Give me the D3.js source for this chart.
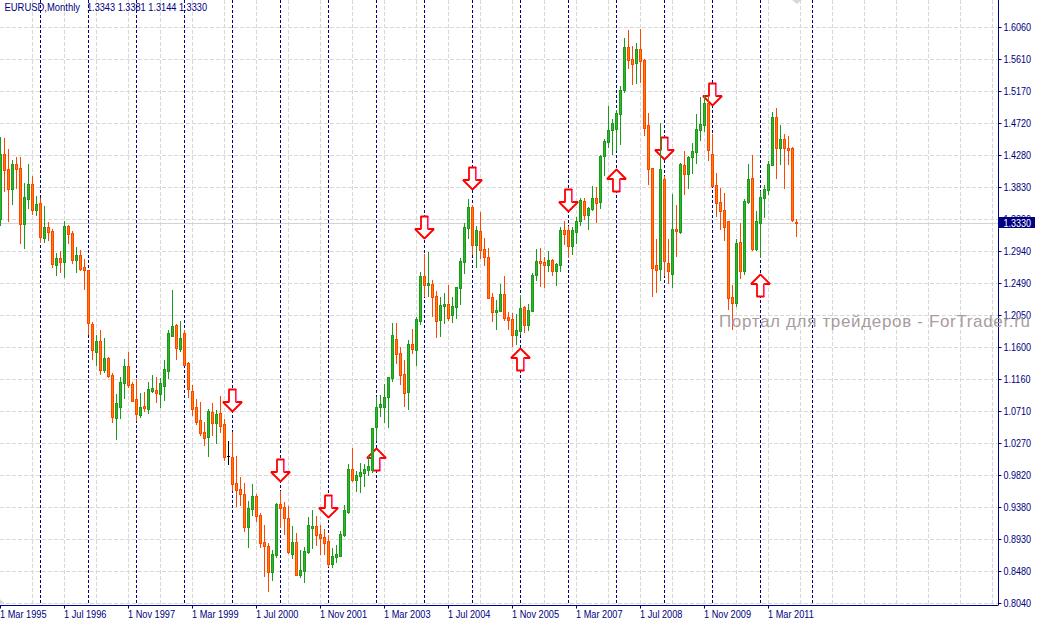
<!DOCTYPE html>
<html>
<head>
<meta charset="utf-8">
<script src="https://cdn.jsdelivr.net/npm/d3@7"></script>
<style>
  html, body { margin: 0; padding: 0; background: #fff; }
  svg { display: block; }
  text { font-family: "Liberation Sans", Arial, sans-serif; }
</style>
</head>
<body>
<svg id="chart" width="1037" height="622"></svg>
<script>
// EURUSD monthly bars, first bar is 1 Mar 1995
const opens = [
  1.3392,1.4292,1.4078,1.3805,1.4153,1.4097,1.3322,1.3665,1.3874,1.3512,
  1.3605,1.3127,1.3276,1.3220,1.2747,1.2844,1.2788,1.3289,1.3192,1.2816,
  1.2886,1.2719,1.2677,1.1925,1.1536,1.1689,1.1285,1.1452,1.1215,1.0617,
  1.0770,1.1104,1.1341,1.1090,1.0881,1.0659,1.0784,1.0742,1.0993,1.1007,
  1.0951,1.1062,1.1271,1.1758,1.1911,1.1577,1.1800,1.1382,1.0993,1.0770,
  1.0589,1.0422,1.0352,1.0700,1.0547,1.0687,1.0533,1.0087,1.0073,0.9711,
  0.9628,0.9558,0.9099,0.9349,0.9530,0.9266,0.8890,0.8834,0.8472,0.8709,
  0.9419,0.9377,0.9224,0.8723,0.8890,0.8431,0.8486,0.8751,0.9085,0.9113,
  0.9001,0.8960,0.8904,0.8584,0.8681,0.8695,0.8987,0.9308,0.9906,0.9753,
  0.9809,0.9850,0.9892,0.9892,1.0491,1.0770,1.0770,1.0909,1.1173,1.1716,
  1.1521,1.1229,1.0979,1.1647,1.1563,1.1967,1.2593,1.2468,1.2482,1.2315,
  1.1981,1.2176,1.2204,1.2050,1.2162,1.2426,1.2788,1.3261,1.3554,1.3025,
  1.3220,1.2969,1.2858,1.2301,1.2092,1.2106,1.2343,1.2023,1.1995,1.1772,
  1.1828,1.2162,1.1911,1.2106,1.2607,1.2802,1.2788,1.2746,1.2816,1.2663,
  1.2746,1.3234,1.3234,1.3011,1.3206,1.3359,1.3637,1.3442,1.3526,1.3679,
  1.3625,1.4265,1.4460,1.4627,1.4641,1.4850,1.5184,1.5782,1.5615,1.5559,
  1.5754,1.5601,1.4696,1.4098,1.2748,1.2692,1.3945,1.2775,1.2622,1.3249,
  1.3207,1.4140,1.4014,1.4251,1.4321,1.4627,1.4696,1.5003,1.4293,1.3861,
  1.3625,1.3513,1.3360,1.2302,1.2219,1.3068,1.2664,1.3625,1.3959,1.2970,
  1.3332,1.3680,1.3792,1.4140,1.4808,1.4376,1.4502,1.4376,1.4376,1.3343
];
const highs = [
  1.4533,1.4510,1.4361,1.4208,1.4255,1.4255,1.3883,1.4153,1.3985,1.3707,
  1.3679,1.3568,1.3345,1.3248,1.2909,1.2941,1.3359,1.3303,1.3220,1.2997,
  1.2955,1.2830,1.2677,1.1953,1.1772,1.1842,1.1730,1.1466,1.1243,1.0951,
  1.1188,1.1438,1.1536,1.1118,1.1160,1.0965,1.0979,1.1118,1.1215,1.1188,
  1.1174,1.1424,1.1842,1.2399,1.1925,1.1967,1.1842,1.1396,1.1076,1.0881,
  1.0840,1.0561,1.0742,1.0826,1.0728,1.0923,1.0603,1.0296,1.0426,1.0087,
  0.9795,0.9711,0.9461,0.9697,0.9558,0.9294,0.9127,0.8876,0.8779,0.9433,
  0.9600,0.9447,0.9391,0.9113,0.9015,0.8779,0.8820,0.9238,0.9335,0.9252,
  0.9127,0.9071,0.8987,0.8806,0.8848,0.9043,0.9405,0.9976,1.0198,0.9878,
  0.9990,0.9976,1.0087,1.0477,1.0909,1.0937,1.1090,1.1187,1.1939,1.1939,
  1.1605,1.1424,1.1702,1.1860,1.2023,1.2649,1.2900,1.2927,1.2538,1.2384,
  1.2301,1.2357,1.2468,1.2301,1.2440,1.2844,1.3331,1.3665,1.3582,1.3289,
  1.3484,1.3122,1.2983,1.2357,1.2259,1.2482,1.2593,1.2092,1.2078,1.2064,
  1.2329,1.2176,1.2204,1.2635,1.2969,1.2983,1.2858,1.2941,1.2830,1.2774,
  1.3275,1.3359,1.3289,1.3275,1.3415,1.3679,1.3679,1.3554,1.3846,1.3832,
  1.4279,1.4502,1.4961,1.4780,1.4905,1.5239,1.5907,1.6019,1.5796,1.5838,
  1.6033,1.5615,1.4863,1.4098,1.3110,1.4724,1.3986,1.3110,1.3736,1.3583,
  1.4167,1.4334,1.4265,1.4446,1.4850,1.5086,1.5114,1.5100,1.4571,1.4028,
  1.3819,1.3750,1.3360,1.2469,1.3110,1.3332,1.3666,1.4153,1.4279,1.3499,
  1.3778,1.3861,1.4195,1.4877,1.4933,1.4696,1.4571,1.4543,1.4390,1.3381
];
const lows = [
  1.3303,1.3781,1.3359,1.3596,1.3818,1.3053,1.2983,1.3540,1.3457,1.3443,
  1.3067,1.3067,1.3095,1.2719,1.2607,1.2649,1.2580,1.3053,1.2774,1.2649,
  1.2677,1.2413,1.1786,1.1438,1.1355,1.1229,1.1257,1.1188,1.0561,1.0325,
  1.0617,1.0895,1.1048,1.0853,1.0589,1.0631,1.0714,1.0687,1.0979,1.0840,
  1.0770,1.0867,1.1174,1.1758,1.1438,1.1549,1.1355,1.0909,1.0659,1.0533,
  1.0380,1.0241,1.0088,1.0380,1.0269,1.0422,1.0031,0.9976,0.9614,0.9391,
  0.9405,0.9043,0.8820,0.9266,0.9182,0.8820,0.8417,0.8208,0.8361,0.8681,
  0.9099,0.9001,0.8737,0.8667,0.8431,0.8403,0.8333,0.8737,0.8806,0.8848,
  0.8723,0.8723,0.8556,0.8542,0.8612,0.8695,0.8973,0.9294,0.9739,0.9600,
  0.9586,0.9669,0.9823,0.9864,1.0310,1.0644,1.0561,1.0491,1.1132,1.1382,
  1.1090,1.0784,1.0742,1.1521,1.1354,1.1925,1.2315,1.2315,1.2036,1.1744,
  1.1758,1.1939,1.1981,1.1953,1.2009,1.2204,1.2635,1.3122,1.2900,1.2719,
  1.2844,1.2746,1.2287,1.1967,1.1856,1.2106,1.1981,1.1856,1.1619,1.1647,
  1.1786,1.1814,1.1842,1.2106,1.2538,1.2454,1.2440,1.2663,1.2607,1.2468,
  1.2663,1.3039,1.2858,1.2900,1.3053,1.3303,1.3387,1.3247,1.3512,1.3345,
  1.3541,1.4000,1.4390,1.4293,1.4348,1.4432,1.5156,1.5490,1.5267,1.5281,
  1.5295,1.4557,1.3875,1.2316,1.2372,1.2539,1.2608,1.2497,1.2441,1.2873,
  1.3193,1.3736,1.3819,1.4028,1.4167,1.4488,1.4613,1.4209,1.3847,1.3430,
  1.3249,1.3096,1.2135,1.1857,1.2177,1.2567,1.2622,1.3611,1.2956,1.2956,
  1.2859,1.3416,1.3736,1.4140,1.3959,1.4153,1.3819,1.4153,1.3360,1.3144
];
const closes = [
  1.4292,1.4069,1.3809,1.4153,1.4083,1.3322,1.3693,1.3874,1.3512,1.3596,
  1.3141,1.3276,1.3206,1.2761,1.2844,1.2788,1.3289,1.3178,1.2816,1.2886,
  1.2691,1.2677,1.1939,1.1563,1.1689,1.1285,1.1452,1.1201,1.0631,1.0826,
  1.1118,1.1341,1.1076,1.0853,1.0673,1.0770,1.0756,1.1020,1.1034,1.0965,
  1.1104,1.1299,1.1800,1.1898,1.1591,1.1730,1.1355,1.1020,1.0742,1.0561,
  1.0408,1.0338,1.0714,1.0547,1.0673,1.0505,1.0073,1.0087,0.9697,0.9614,
  0.9558,0.9099,0.9363,0.9530,0.9252,0.8876,0.8834,0.8472,0.8723,0.9419,
  0.9363,0.9224,0.8751,0.8890,0.8431,0.8500,0.8765,0.9127,0.9113,0.8987,
  0.8946,0.8876,0.8584,0.8695,0.8723,0.9001,0.9335,0.9906,0.9753,0.9823,
  0.9864,0.9906,0.9948,1.0477,1.0770,1.0812,1.0909,1.1187,1.1772,1.1508,
  1.1215,1.0965,1.1647,1.1577,1.1995,1.2593,1.2468,1.2496,1.2301,1.1967,
  1.2190,1.2204,1.2009,1.2176,1.2440,1.2802,1.3275,1.3554,1.3025,1.3234,
  1.2955,1.2858,1.2287,1.2092,1.2120,1.2343,1.2009,1.1981,1.1772,1.1842,
  1.2148,1.1911,1.2120,1.2607,1.2802,1.2774,1.2746,1.2816,1.2663,1.2760,
  1.3234,1.3178,1.3011,1.3234,1.3359,1.3651,1.3442,1.3540,1.3679,1.3609,
  1.4265,1.4474,1.4627,1.4724,1.4863,1.5184,1.5782,1.5601,1.5546,1.5754,
  1.5587,1.4655,1.4084,1.2706,1.2678,1.4084,1.2803,1.2664,1.3249,1.3221,
  1.4153,1.4014,1.4251,1.4334,1.4641,1.4710,1.5003,1.4348,1.3847,1.3611,
  1.3499,1.3277,1.2288,1.2219,1.3054,1.2664,1.3638,1.3945,1.2970,1.3360,
  1.3694,1.3806,1.4153,1.4808,1.4376,1.4502,1.4376,1.4348,1.3374,1.3330
];

const priceTicks = [1.6060,1.5610,1.5170,1.4720,1.4280,1.3830,1.3390,1.2940,1.2490,1.2050,
  1.1600,1.1160,1.0710,1.0270,0.9820,0.9380,0.8930,0.8480,0.8040];
const timeTicks = [0,16,32,48,64,80,96,112,128,144,160,176,192];
const timeLabels = ["1 Mar 1995","1 Jul 1996","1 Nov 1997","1 Mar 1999","1 Jul 2000","1 Nov 2001",
  "1 Mar 2003","1 Jul 2004","1 Nov 2005","1 Mar 2007","1 Jul 2008","1 Nov 2009","1 Mar 2011"];
const separators = [10,22,34,46,58,70,82,94,106,118,130,142,154,166,178,190,203];
const gridBars = d3.range(8, 250, 8);

// fractal style turning point arrows, price is where the tip sits
const downBars = [58,70,82,106,118,142,166,178];
const downPrices = [1.0713,0.9738,0.9237,1.3118,1.3800,1.3502,1.4222,1.4970];
const upBars = [94,130,154,190];
const upPrices = [1.0194,1.1595,1.4079,1.2617];

const lastPrice = 1.3330;
const headerName = "EURUSD,Monthly";
const headerValues = "1.3343 1.3381 1.3144 1.3330";
const watermark = "Портал для трейдеров - ForTrader.ru";

const axisX = 998, axisY = 605;
const navy = "#000080";

const svg = d3.select("#chart");
const x = d3.scaleLinear().domain([0, 250]).range([0.5, 1000.5]);
const y = d3.scaleLinear().domain([0.804, 1.606]).rangeRound([603, 27]);

// the terminal font is narrower than anything installed, so squeeze the glyphs
function squeeze(sel, factor) {
  sel.each(function () {
    d3.select(this)
      .attr("lengthAdjust", "spacingAndGlyphs")
      .attr("textLength", this.getComputedTextLength() * factor);
  });
}

// grid
const grid = svg.append("g").attr("stroke", "#d8d8d8").attr("stroke-dasharray", "4,2");
grid.selectAll(".h").data(priceTicks).join("line")
  .attr("x1", 0).attr("x2", axisX)
  .attr("y1", d => y(d) + 0.5).attr("y2", d => y(d) + 0.5);
grid.selectAll(".v").data(gridBars).join("line")
  .attr("x1", d => x(d)).attr("x2", d => x(d))
  .attr("y1", 0).attr("y2", axisY);

// period separators
svg.append("g").attr("stroke", "#00008b").attr("stroke-dasharray", "3,2")
  .selectAll("line").data(separators).join("line")
  .attr("x1", d => x(d)).attr("x2", d => x(d))
  .attr("y1", 0).attr("y2", axisY);

// current price line
svg.append("line")
  .attr("x1", 0).attr("x2", axisX)
  .attr("y1", y(lastPrice) + 0.5).attr("y2", y(lastPrice) + 0.5)
  .attr("stroke", "#d3d3d3");

// arrows go under the candles
function arrowPath(dir) {
  // dir 1 points down, -1 points up, tip at 0,0
  const p = [[0,0],[9.5,-9.5],[3.5,-9.5],[3.5,-22],[-3.5,-22],[-3.5,-9.5],[-9.5,-9.5]];
  return "M" + p.map(d => [d[0], d[1] * dir].join(",")).join("L") + "Z";
}
function drawArrows(bars, prices, dir) {
  const a = svg.append("g").selectAll("g").data(bars).join("g")
    .attr("transform", (d, i) => `translate(${x(d)},${y(prices[i]) + 0.5})`);
  a.append("path").attr("d", arrowPath(dir))
    .attr("fill", "#fff").attr("stroke", "#ff0000").attr("stroke-width", 1.8)
    .attr("stroke-linejoin", "bevel");
  a.append("line").attr("x1", 4).attr("x2", 4)
    .attr("y1", -10 * dir).attr("y2", -22 * dir)
    .attr("stroke", "#ff66cc").attr("stroke-width", 1.2);
}
drawArrows(downBars, downPrices, 1);
drawArrows(upBars, upPrices, -1);

// candles
const bars = d3.range(opens.length);
const lineColor = i => closes[i] > opens[i] ? "#1c9a1c" : closes[i] < opens[i] ? "#ff4500" : "#000";
const fillColor = i => closes[i] > opens[i] ? "#2db52d" : "#ff8000";

const candles = svg.append("g").selectAll("g").data(bars).join("g");
candles.append("line")
  .attr("x1", i => x(i)).attr("x2", i => x(i))
  .attr("y1", i => y(highs[i])).attr("y2", i => y(lows[i]) + 1)
  .attr("stroke", lineColor);
candles.append("rect")
  .attr("x", i => x(i) - 1.5).attr("width", 3)
  .attr("y", i => y(Math.max(opens[i], closes[i])))
  .attr("height", i => y(Math.min(opens[i], closes[i])) - y(Math.max(opens[i], closes[i])) + 1)
  .attr("fill", lineColor);
candles.filter(i => closes[i] !== opens[i]).append("rect")
  .attr("x", i => x(i) - 0.5).attr("width", 1)
  .attr("y", i => y(Math.max(opens[i], closes[i])) + 1)
  .attr("height", i => Math.max(0, y(Math.min(opens[i], closes[i])) - y(Math.max(opens[i], closes[i])) - 1))
  .attr("fill", fillColor);

// axes
const yAxis = svg.append("g").attr("transform", `translate(${axisX + 0.5},0.5)`)
  .call(d3.axisRight(y).offset(0).tickValues(priceTicks).tickFormat(d3.format(".4f")).tickSize(3).tickPadding(2));
yAxis.select(".domain").attr("d", `M0,-1V${axisY}`).attr("stroke", navy);
yAxis.selectAll("line").attr("stroke", navy);
yAxis.selectAll("text").attr("fill", navy).attr("font-size", 11)
  .attr("font-family", "'Liberation Sans'").attr("dy", "0.32em").call(squeeze, 0.82);

const xAxis = svg.append("g").attr("transform", `translate(0,${axisY + 0.5})`)
  .call(d3.axisBottom(x).offset(0).tickValues(timeTicks).tickFormat((d, i) => timeLabels[i]).tickSize(3).tickPadding(2));
xAxis.select(".domain").attr("d", `M0,0H${axisX}`).attr("stroke", navy);
xAxis.selectAll("line").attr("stroke", navy);
xAxis.selectAll("text").attr("fill", navy).attr("font-size", 10.5)
  .attr("font-family", "'Liberation Sans'").attr("text-anchor", "start").attr("dx", -0.5).attr("dy", "0.71em")
  .call(squeeze, 0.876);

// price tag over the axis
svg.append("rect").attr("x", 999).attr("y", y(lastPrice) - 6).attr("width", 36).attr("height", 11).attr("fill", navy);
svg.append("text").attr("x", 1003.5).attr("y", y(lastPrice) + 4)
  .attr("fill", "#fff").attr("font-size", 11).text(d3.format(".4f")(lastPrice)).call(squeeze, 0.82);

svg.append("text").attr("x", 4.5).attr("y", 11).attr("fill", navy).attr("font-size", 11)
  .attr("textLength", 75.5).attr("lengthAdjust", "spacingAndGlyphs").text(headerName);
svg.append("text").attr("x", 87).attr("y", 11).attr("fill", navy).attr("font-size", 11)
  .attr("textLength", 120).attr("lengthAdjust", "spacingAndGlyphs").text(headerValues);

svg.append("text").attr("x", 719).attr("y", 327)
  .attr("fill", "#a89c9c").attr("font-size", 17).attr("textLength", 311)
  .text(watermark);

// small shift markers from the terminal window
svg.append("path").attr("d", "M792,0H802L797,4Z").attr("fill", "#d8d8d8");
svg.append("path").attr("d", "M0,599L4,603H0Z").attr("fill", "#d8d8d8");
</script>
</body>
</html>
